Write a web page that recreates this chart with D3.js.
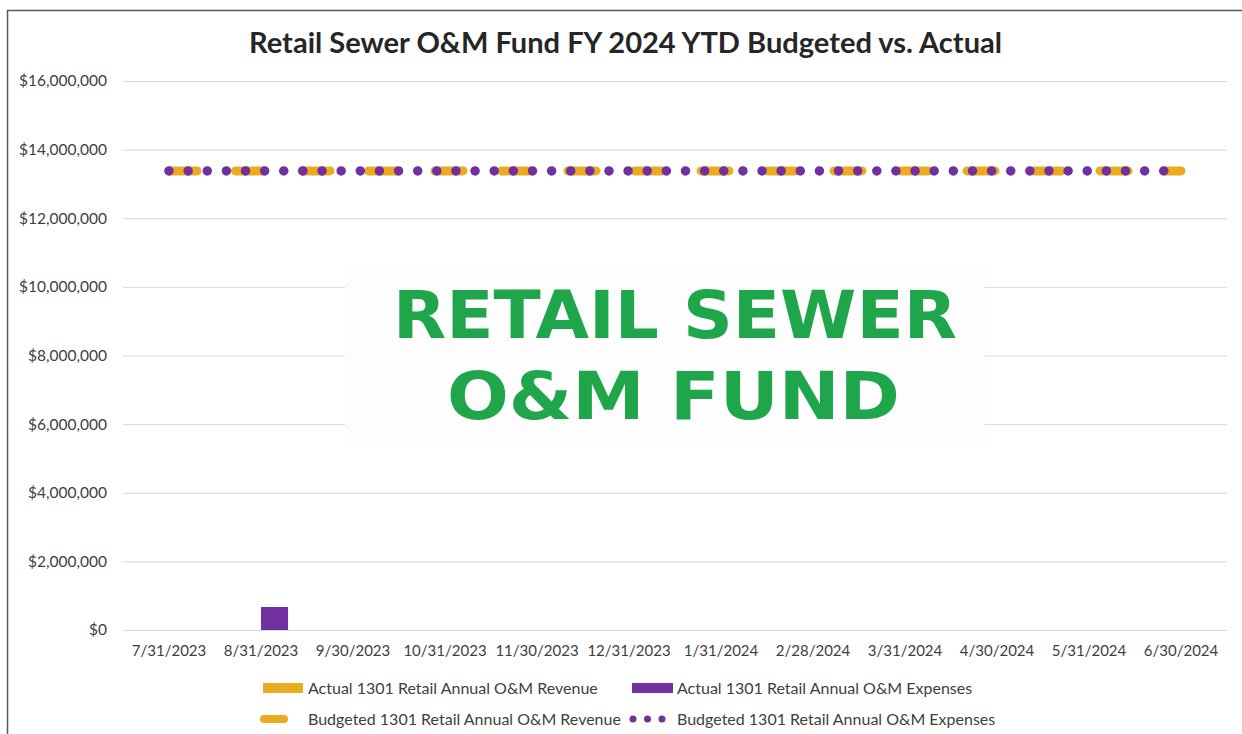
<!DOCTYPE html>
<html>
<head>
<meta charset="utf-8">
<script src="https://cdn.jsdelivr.net/npm/d3@7"></script>
<style>
    html, body { margin: 0; padding: 0; background: #fff; }
    svg { display: block; }
    text { font-family: Lato, "Open Sans", sans-serif; }
</style>
</head>
<body>
<div id="chart"></div>
<script>
const categories = ['7/31/2023', '8/31/2023', '9/30/2023', '10/31/2023', '11/30/2023', '12/31/2023',
    '1/31/2024', '2/28/2024', '3/31/2024', '4/30/2024', '5/31/2024', '6/30/2024'];
const actualRevenue = [0, 0, null, null, null, null, null, null, null, null, null, null];
const actualExpenses = [0, 670000, null, null, null, null, null, null, null, null, null, null];
const budgetedRevenue = [13380000, 13380000, 13380000, 13380000, 13380000, 13380000,
    13380000, 13380000, 13380000, 13380000, 13380000, 13380000];
const budgetedExpenses = [13380000, 13380000, 13380000, 13380000, 13380000, 13380000,
    13380000, 13380000, 13380000, 13380000, 13380000, 13380000];
const yTicks = [0, 2000000, 4000000, 6000000, 8000000, 10000000, 12000000, 14000000, 16000000];

const orange = '#EBAB20';
const purple = '#7030A0';
const textColor = '#404040';

const W = 1242, H = 734;
const svg = d3.select('#chart').append('svg')
    .attr('width', W)
    .attr('height', H);

// chart frame (top + left edges visible)
svg.append('path')
    .attr('d', `M7.5,${H} V10.5 H${W}`)
    .attr('fill', 'none')
    .attr('stroke', '#595959')
    .attr('stroke-width', 1.5);

const x = d3.scaleBand().domain(categories).range([123, 1227]).padding(0);
const y = d3.scaleLinear().domain([0, 16000000]).range([630, 81]);
const bw = x.bandwidth();
const barW = bw * 0.294;
const xs = d3.scaleOrdinal().domain(['rev', 'exp']).range([bw / 2 - barW, bw / 2]);

// grid lines
svg.append('g')
    .attr('transform', 'translate(123,0)')
    .call(d3.axisLeft(y).tickValues(yTicks).tickSize(-1104).tickFormat(''))
    .call(g => g.select('.domain').remove())
    .selectAll('line')
    .attr('stroke', '#d9d9d9')
    .attr('stroke-width', 1);

// y labels
const fmt = d3.format(',');
svg.append('g')
    .attr('transform', 'translate(107,0)')
    .call(d3.axisLeft(y).tickValues(yTicks).tickSize(0).tickPadding(0).tickFormat(d => '$' + fmt(d)))
    .call(g => g.select('.domain').remove())
    .selectAll('text')
    .attr('fill', textColor)
    .style('font-family', 'Lato, sans-serif')
    .style('font-size', '15.5px');

// x labels
svg.append('g')
    .attr('transform', 'translate(0,645)')
    .call(d3.axisBottom(x).tickSize(0).tickPadding(0))
    .call(g => g.select('.domain').remove())
    .selectAll('text')
    .attr('fill', textColor)
    .attr('dy', '0.71em')
    .style('font-family', 'Lato, sans-serif')
    .style('font-size', '15px');

// watermark
const wm = svg.append('g');
wm.append('rect')
    .attr('x', 345).attr('y', 265).attr('width', 640).attr('height', 180)
    .attr('fill', '#fcfdfc');
wm.append('text')
    .attr('x', 393).attr('y', 338)
    .attr('textLength', 564).attr('lengthAdjust', 'spacingAndGlyphs')
    .attr('fill', '#1FA64A')
    .style('font-family', '"DejaVu Sans", sans-serif')
    .style('font-weight', 700)
    .style('font-size', '65px')
    .text('RETAIL SEWER');
wm.append('text')
    .attr('x', 447).attr('y', 419)
    .attr('textLength', 453).attr('lengthAdjust', 'spacingAndGlyphs')
    .attr('fill', '#1FA64A')
    .style('font-family', '"DejaVu Sans", sans-serif')
    .style('font-weight', 700)
    .style('font-size', '65px')
    .text('O&M FUND');

// bars
const barData = categories.map((c, i) => ({ c, rev: actualRevenue[i], exp: actualExpenses[i] }));
svg.append('g').selectAll('rect')
    .data(barData.filter(d => d.rev))
    .join('rect')
    .attr('x', d => x(d.c) + xs('rev'))
    .attr('y', d => y(d.rev))
    .attr('width', barW)
    .attr('height', d => y(0) - y(d.rev))
    .attr('fill', orange);
svg.append('g').selectAll('rect')
    .data(barData.filter(d => d.exp))
    .join('rect')
    .attr('x', d => x(d.c) + xs('exp'))
    .attr('y', d => y(d.exp))
    .attr('width', barW)
    .attr('height', d => y(0) - y(d.exp))
    .attr('fill', purple);

// budget lines
const line = d3.line()
    .x(d => x(d.c) + bw / 2)
    .y(d => y(d.v));

svg.append('path')
    .datum(categories.map((c, i) => ({ c, v: budgetedRevenue[i] })))
    .attr('d', line)
    .attr('fill', 'none')
    .attr('stroke', orange)
    .attr('stroke-width', 9)
    .attr('stroke-linecap', 'round')
    .attr('stroke-dasharray', '28,38.5');

svg.append('path')
    .datum(categories.map((c, i) => ({ c, v: budgetedExpenses[i] })))
    .attr('d', line)
    .attr('fill', 'none')
    .attr('stroke', purple)
    .attr('stroke-width', 9.5)
    .attr('stroke-linecap', 'round')
    .attr('stroke-dasharray', '0,19.13');

// title
svg.append('text')
    .attr('x', 249).attr('y', 53)
    .attr('textLength', 753).attr('lengthAdjust', 'spacingAndGlyphs')
    .attr('fill', '#262626')
    .style('font-weight', 700)
    .style('font-size', '28px')
    .text('Retail Sewer O&M Fund FY 2024 YTD Budgeted vs. Actual');

// legend
const legend = svg.append('g').style('font-size', '16px').attr('fill', textColor);
legend.append('rect').attr('x', 263).attr('y', 683).attr('width', 40).attr('height', 10).attr('fill', orange);
legend.append('text').attr('x', 308).attr('y', 688).attr('dy', '0.35em').text('Actual 1301 Retail Annual O&M Revenue');
legend.append('rect').attr('x', 632).attr('y', 683).attr('width', 41).attr('height', 10).attr('fill', purple);
legend.append('text').attr('x', 677).attr('y', 688).attr('dy', '0.35em').text('Actual 1301 Retail Annual O&M Expenses');

legend.append('line')
    .attr('x1', 264).attr('x2', 284).attr('y1', 719).attr('y2', 719)
    .attr('stroke', orange).attr('stroke-width', 8).attr('stroke-linecap', 'round');
legend.append('text').attr('x', 308).attr('y', 719).attr('dy', '0.35em').text('Budgeted 1301 Retail Annual O&M Revenue');
legend.append('line')
    .attr('x1', 633).attr('x2', 663.5).attr('y1', 719).attr('y2', 719)
    .attr('stroke', purple).attr('stroke-width', 7).attr('stroke-linecap', 'round')
    .attr('stroke-dasharray', '0,14.5');
legend.append('text').attr('x', 677).attr('y', 719).attr('dy', '0.35em').text('Budgeted 1301 Retail Annual O&M Expenses');
</script>
</body>
</html>
